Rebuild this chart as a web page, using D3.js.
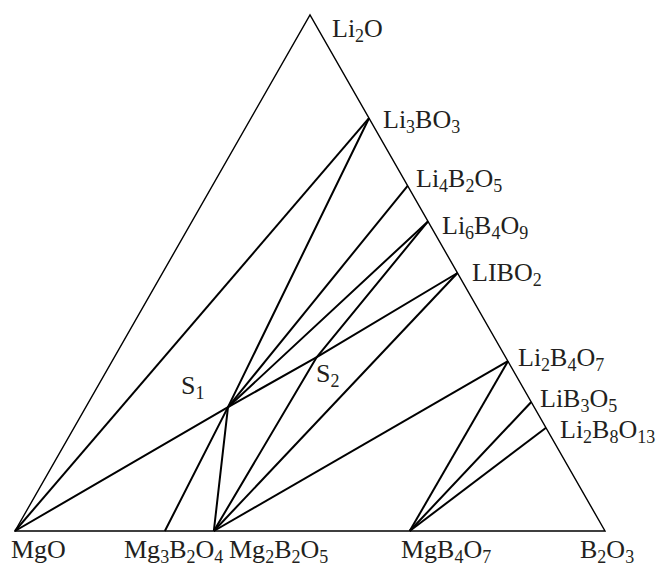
<!DOCTYPE html>
<html>
<head>
<meta charset="utf-8">
<script src="https://cdn.jsdelivr.net/npm/d3@7"></script>
<style>
  body { margin: 0; background: #fff; }
  text { font-family: "Liberation Serif", "Times New Roman", serif; fill: #231f20; }
</style>
</head>
<body>
<svg id="svg1" width="660" height="567"></svg>
<script>
// ternary data: each point is a mole fraction of B2O3 and of Li2O (MgO is the rest)
const cornerNames = ["MgO", "B2O3", "Li2O"];
const cornerB2O3  = [0, 1, 0];
const cornerLi2O  = [0, 0, 1];

// compounds on the Li2O - B2O3 side
const sideNames = ["Li3BO3", "Li4B2O5", "Li6B4O9", "LIBO2", "Li2B4O7", "LiB3O5", "Li2B8O13"];
const sideB2O3  = [0.20, 0.331, 0.40, 0.50, 0.671, 0.75, 0.80];

// compounds on the MgO - B2O3 side
const baseNames = ["Mg3B2O4", "Mg2B2O5", "MgB4O7"];
const baseB2O3  = [0.254, 0.337, 0.669];

// invariant points inside the triangle
const innerNames = ["S1", "S2"];
const innerB2O3  = [0.241, 0.343];
const innerLi2O  = [0.240, 0.337];

// tie lines (chains of named points)
const tieLines = [
  ["MgO", "Li3BO3"],
  ["MgO", "S1", "S2", "LIBO2"],
  ["Li3BO3", "S1", "Mg3B2O4"],
  ["Li4B2O5", "S1"],
  ["Li6B4O9", "S1", "Mg2B2O5"],
  ["Li6B4O9", "S2", "Mg2B2O5"],
  ["LIBO2", "Mg2B2O5"],
  ["Li2B4O7", "Mg2B2O5"],
  ["Li2B4O7", "MgB4O7"],
  ["LiB3O5", "MgB4O7"],
  ["Li2B8O13", "MgB4O7"]
];

const svg = d3.select("#svg1");

// cartesian helper: x = b + li/2 , y = li  (triangle scaled to the picture)
const x = d3.scaleLinear().domain([0, 1]).range([15, 605]);
const y = d3.scaleLinear().domain([0, 1]).range([531, 15]);

const pts = {};
cornerNames.forEach((n, i) => pts[n] = {b: cornerB2O3[i], li: cornerLi2O[i]});
sideNames.forEach((n, i) => pts[n] = {b: sideB2O3[i], li: 1 - sideB2O3[i]});
baseNames.forEach((n, i) => pts[n] = {b: baseB2O3[i], li: 0});
innerNames.forEach((n, i) => pts[n] = {b: innerB2O3[i], li: innerLi2O[i]});

const px = n => x(pts[n].b + pts[n].li / 2);
const py = n => y(pts[n].li);

const line = d3.line().x(px).y(py);

// triangle
svg.append("path")
  .attr("d", line(["MgO", "B2O3", "Li2O"]) + "Z")
  .attr("fill", "none")
  .attr("stroke", "#000")
  .attr("stroke-width", 1.4)
  .attr("stroke-linejoin", "miter");

// tie lines
svg.selectAll(".tie")
  .data(tieLines)
  .enter().append("path")
  .attr("class", "tie")
  .attr("d", d => line(d))
  .attr("fill", "none")
  .attr("stroke", "#000")
  .attr("stroke-width", 2)
  .attr("stroke-linejoin", "round");

// label places (left x, baseline y)
const labelAt = {
  "Li2O": [332, 37],
  "Li3BO3": [383, 128],
  "Li4B2O5": [416, 187],
  "Li6B4O9": [442, 234],
  "LIBO2": [472, 281],
  "Li2B4O7": [518, 366],
  "LiB3O5": [540, 407],
  "Li2B8O13": [560, 438],
  "MgO": [11, 558],
  "Mg3B2O4": [124, 558],
  "Mg2B2O5": [229, 558],
  "MgB4O7": [401, 558],
  "B2O3": [580, 558],
  "S1": [181, 394],
  "S2": [316, 382]
};

Object.keys(labelAt).forEach(name => {
  const t = svg.append("text")
    .attr("x", labelAt[name][0])
    .attr("y", labelAt[name][1])
    .style("font-size", "26px");
  // digits become subscripts
  const parts = name.match(/[A-Za-z]+|\d+/g);
  let low = false;
  parts.forEach(p => {
    const isNum = /\d/.test(p);
    const s = t.append("tspan").text(p);
    if (isNum && !low) { s.attr("dy", 5).style("font-size", "18px"); low = true; }
    else if (isNum) { s.style("font-size", "18px"); }
    else if (low) { s.attr("dy", -5); low = false; }
  });
});
</script>
</body>
</html>
